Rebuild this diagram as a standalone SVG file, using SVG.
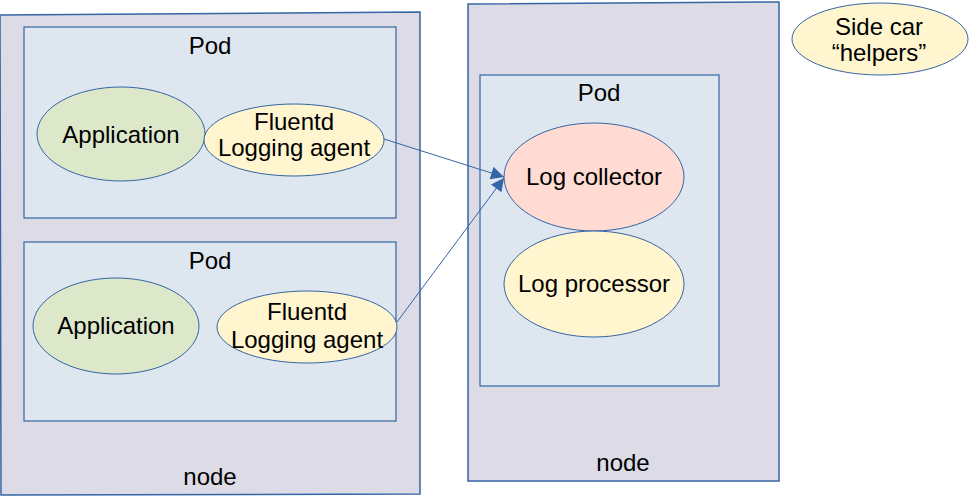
<svg xmlns="http://www.w3.org/2000/svg" width="972" height="497" viewBox="0 0 972 497">
<style>
.node{fill:#dddbe6;stroke:#3465a4;stroke-width:1.5}
.pod{fill:#dee6ef;stroke:#3465a4;stroke-width:1.2}
.app{fill:#dde8cb;stroke:#3465a4;stroke-width:1}
.flu{fill:#fff5ce;stroke:#3465a4;stroke-width:1}
.col{fill:#ffdbd3;stroke:#3465a4;stroke-width:1}
text{font-family:"Liberation Sans",Arial,sans-serif;font-size:24px;fill:#000;text-anchor:middle}
.conn{stroke:#3465a4;stroke-width:1;fill:none}
</style>
<defs>
<marker id="ah" viewBox="0 0 10 10" refX="10" refY="5" markerWidth="15" markerHeight="13" markerUnits="userSpaceOnUse" orient="auto">
<path d="M0,0 L10,5 L0,10 z" fill="#3465a4"/>
</marker>
</defs>
<g id="node1">
<polygon class="node" points="0,15 420,12 420,494 1,495"/>
<text x="210" y="485">node</text>
</g>
<g id="node2">
<polygon class="node" points="468,4 779,2 779,481 468,481"/>
<text x="623" y="471">node</text>
</g>
<g id="pod1">
<rect class="pod" x="24" y="27" width="372" height="191"/>
<text x="210" y="54">Pod</text>
</g>
<g id="pod2">
<rect class="pod" x="24" y="242" width="372" height="179"/>
<text x="210" y="269">Pod</text>
</g>
<g id="pod3">
<rect class="pod" x="480" y="75" width="239" height="311"/>
<text x="599" y="101">Pod</text>
</g>
<g id="app1">
<ellipse class="app" cx="121" cy="134" rx="84" ry="47"/>
<text x="121" y="143">Application</text>
</g>
<g id="fluentd1">
<ellipse class="flu" cx="294" cy="140" rx="90" ry="36"/>
<text x="294" y="130">Fluentd</text>
<text x="294" y="156">Logging agent</text>
</g>
<g id="app2">
<ellipse class="app" cx="116" cy="326" rx="83" ry="48"/>
<text x="116" y="334">Application</text>
</g>
<g id="fluentd2">
<ellipse class="flu" cx="307" cy="327" rx="90" ry="36"/>
<text x="307" y="320">Fluentd</text>
<text x="307" y="348">Logging agent</text>
</g>
<g id="collector">
<ellipse class="col" cx="594" cy="177" rx="90" ry="54"/>
<text x="594" y="185">Log collector</text>
</g>
<g id="processor">
<ellipse class="flu" cx="594" cy="284" rx="90" ry="53"/>
<text x="594" y="292">Log processor</text>
</g>
<g id="sidecar">
<ellipse class="flu" cx="880" cy="39" rx="88" ry="36"/>
<text x="879" y="35">Side car</text>
<text x="879" y="61">“helpers”</text>
</g>
<g id="connectors">
<line class="conn" x1="384" y1="139" x2="504" y2="177" marker-end="url(#ah)"/>
<line class="conn" x1="397" y1="322" x2="504" y2="178" marker-end="url(#ah)"/>
</g>
</svg>
